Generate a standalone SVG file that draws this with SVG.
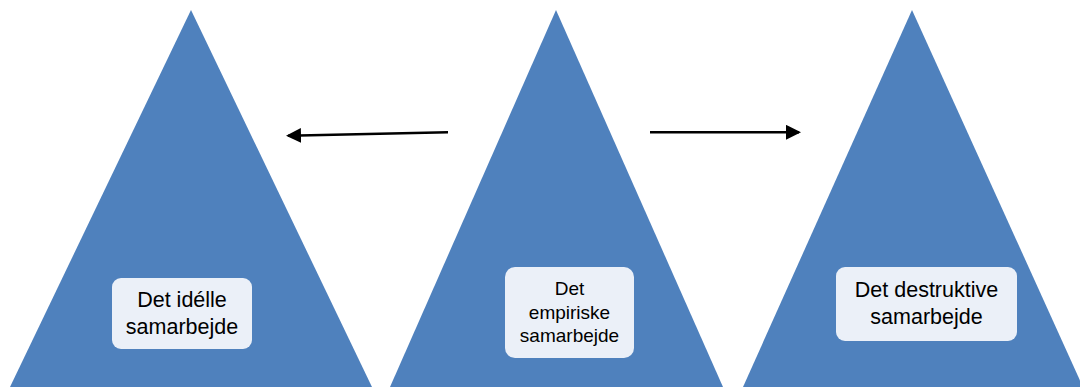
<svg xmlns="http://www.w3.org/2000/svg" width="1080" height="387" viewBox="0 0 1080 387">
<style>
.tri{fill:#4F81BD;}
.box{fill:#EBF0F8;}
.lbl{font-family:"Liberation Sans",Arial,sans-serif;fill:#000;text-anchor:middle;}
.conn{stroke:#000;stroke-width:2.5;fill:none;}
</style>
<defs>
<marker id="ah" markerUnits="userSpaceOnUse" markerWidth="16" markerHeight="16" refX="13" refY="7.5" orient="auto">
<path d="M0,0 L15,7.5 L0,15 z" fill="#000"/>
</marker>
</defs>
<rect width="1080" height="387" fill="#fff"/>
<g id="node-ideal">
<polygon class="tri" points="191,10 10,387 372,387"/>
<rect class="box" x="112" y="278" width="140" height="71" rx="9"/>
<text class="lbl" font-size="21.5" x="182" y="307">Det idélle</text>
<text class="lbl" font-size="21.5" x="182" y="334">samarbejde</text>
</g>
<g id="node-empirical">
<polygon class="tri" points="556,10 390,387 723,387"/>
<rect class="box" x="505" y="267" width="129" height="91" rx="10"/>
<text class="lbl" font-size="19" x="569.5" y="295">Det</text>
<text class="lbl" font-size="19" x="569.5" y="318.5">empiriske</text>
<text class="lbl" font-size="19" x="569.5" y="342">samarbejde</text>
</g>
<g id="node-destructive">
<polygon class="tri" points="912,10 743,387 1083,387"/>
<rect class="box" x="836" y="267" width="181" height="74" rx="9"/>
<text class="lbl" font-size="21.5" x="926.5" y="297">Det destruktive</text>
<text class="lbl" font-size="21.5" x="926.5" y="324">samarbejde</text>
</g>
<g id="connectors">
<line class="conn" x1="448" y1="132.3" x2="288" y2="135.7" marker-end="url(#ah)"/>
<line class="conn" x1="650" y1="132.3" x2="799" y2="132.3" marker-end="url(#ah)"/>
</g>
</svg>
